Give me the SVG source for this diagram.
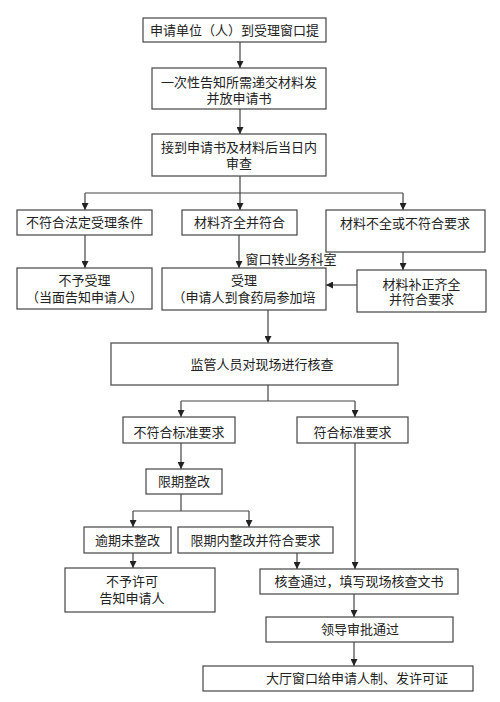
<svg xmlns="http://www.w3.org/2000/svg" width="500" height="702" viewBox="0 0 500 702">
<defs>
<marker id="ah" viewBox="0 0 8 8" refX="8" refY="4" markerWidth="7" markerHeight="7" markerUnits="userSpaceOnUse" orient="auto">
<path d="M0,0 L8,4 L0,8 z" fill="#222"/>
</marker>
<style>
.b{fill:#fff;stroke:#444;stroke-width:1.2}
.t{font-family:"Liberation Sans","Noto Sans CJK SC",sans-serif;font-size:13px;fill:#222;text-anchor:middle;dominant-baseline:central}
.c{fill:none;stroke:#444;stroke-width:1.2}
.a{fill:none;stroke:#444;stroke-width:1.2;marker-end:url(#ah)}
</style>
</defs>
<rect width="500" height="702" fill="#fff"/>
<g id="connectors">
<line class="a" x1="240" y1="42" x2="240" y2="68"/>
<line class="a" x1="240" y1="109" x2="240" y2="134"/>
<line class="c" x1="240" y1="176" x2="240" y2="193"/>
<line class="c" x1="85" y1="193" x2="403" y2="193"/>
<line class="a" x1="85" y1="193" x2="85" y2="210"/>
<line class="a" x1="240" y1="193" x2="240" y2="210"/>
<line class="a" x1="403" y1="193" x2="403" y2="210"/>
<line class="a" x1="85" y1="235" x2="85" y2="268"/>
<line class="a" x1="239" y1="235" x2="239" y2="268"/>
<line class="a" x1="403" y1="252" x2="403" y2="270"/>
<line class="a" x1="357" y1="285" x2="326" y2="285"/>
<line class="a" x1="268" y1="310" x2="268" y2="343"/>
<line class="c" x1="268" y1="385" x2="268" y2="401"/>
<line class="c" x1="181" y1="401" x2="355" y2="401"/>
<line class="a" x1="181" y1="401" x2="181" y2="417"/>
<line class="a" x1="355" y1="401" x2="355" y2="417"/>
<line class="a" x1="181" y1="443" x2="181" y2="469"/>
<line class="a" x1="355" y1="443" x2="355" y2="569"/>
<line class="c" x1="181" y1="494" x2="181" y2="511"/>
<line class="c" x1="133" y1="511" x2="249" y2="511"/>
<line class="a" x1="133" y1="511" x2="133" y2="527"/>
<line class="a" x1="249" y1="511" x2="249" y2="527"/>
<line class="a" x1="133" y1="553" x2="133" y2="568"/>
<line class="a" x1="297" y1="553" x2="297" y2="569"/>
<line class="a" x1="354" y1="594" x2="354" y2="617"/>
<line class="a" x1="354" y1="642" x2="354" y2="666"/>
<text class="t" x="291" y="259">窗口转业务科室</text>
</g>
<g id="n1"><rect class="b" x="143" y="18" width="183" height="24"/><text class="t" x="234.5" y="30">申请单位（人）到受理窗口提</text></g>
<g id="n2"><rect class="b" x="152" y="68" width="174" height="41"/><text class="t" x="239" y="82">一次性告知所需递交材料发</text><text class="t" x="239" y="98">并放申请书</text></g>
<g id="n3"><rect class="b" x="152" y="134" width="174" height="42"/><text class="t" x="239" y="147">接到申请书及材料后当日内</text><text class="t" x="239" y="163">审查</text></g>
<g id="n4a"><rect class="b" x="17" y="210" width="135" height="25"/><text class="t" x="84.5" y="222.5">不符合法定受理条件</text></g>
<g id="n4b"><rect class="b" x="182" y="210" width="115" height="25"/><text class="t" x="239.5" y="222.5">材料齐全并符合</text></g>
<g id="n4c"><rect class="b" x="326" y="210" width="159" height="42"/><text class="t" x="405" y="223">材料不全或不符合要求</text></g>
<g id="n5a"><rect class="b" x="17" y="268" width="135" height="41"/><text class="t" x="84.5" y="280">不予受理</text><text class="t" x="84.5" y="297">（当面告知申请人）</text></g>
<g id="n5b"><rect class="b" x="162" y="268" width="164" height="42"/><text class="t" x="244" y="280">受理</text><text class="t" x="244" y="297">（申请人到食药局参加培</text></g>
<g id="n5c"><rect class="b" x="357" y="270" width="129" height="42"/><text class="t" x="421.5" y="284">材料补正齐全</text><text class="t" x="421.5" y="299">并符合要求</text></g>
<g id="n6"><rect class="b" x="111" y="343" width="287" height="42"/><text class="t" x="262" y="364">监管人员对现场进行核查</text></g>
<g id="n7a"><rect class="b" x="123" y="417" width="112" height="26"/><text class="t" x="179" y="432">不符合标准要求</text></g>
<g id="n7b"><rect class="b" x="297" y="417" width="111" height="26"/><text class="t" x="352.5" y="432">符合标准要求</text></g>
<g id="n8"><rect class="b" x="146" y="469" width="76" height="25"/><text class="t" x="184" y="481.5">限期整改</text></g>
<g id="n9a"><rect class="b" x="84" y="527" width="87" height="26"/><text class="t" x="127.5" y="540">逾期未整改</text></g>
<g id="n9b"><rect class="b" x="178" y="527" width="155" height="26"/><text class="t" x="255.5" y="540">限期内整改并符合要求</text></g>
<g id="n10a"><rect class="b" x="65" y="568" width="150" height="44"/><text class="t" x="132" y="581">不予许可</text><text class="t" x="132" y="598">告知申请人</text></g>
<g id="n10b"><rect class="b" x="260" y="569" width="198" height="25"/><text class="t" x="359" y="581.5">核查通过，填写现场核查文书</text></g>
<g id="n11"><rect class="b" x="266" y="617" width="187" height="25"/><text class="t" x="360" y="629.5">领导审批通过</text></g>
<g id="n12"><rect class="b" x="203" y="666" width="270" height="25"/><text class="t" x="357" y="678.5">大厅窗口给申请人制、发许可证</text></g>
</svg>
